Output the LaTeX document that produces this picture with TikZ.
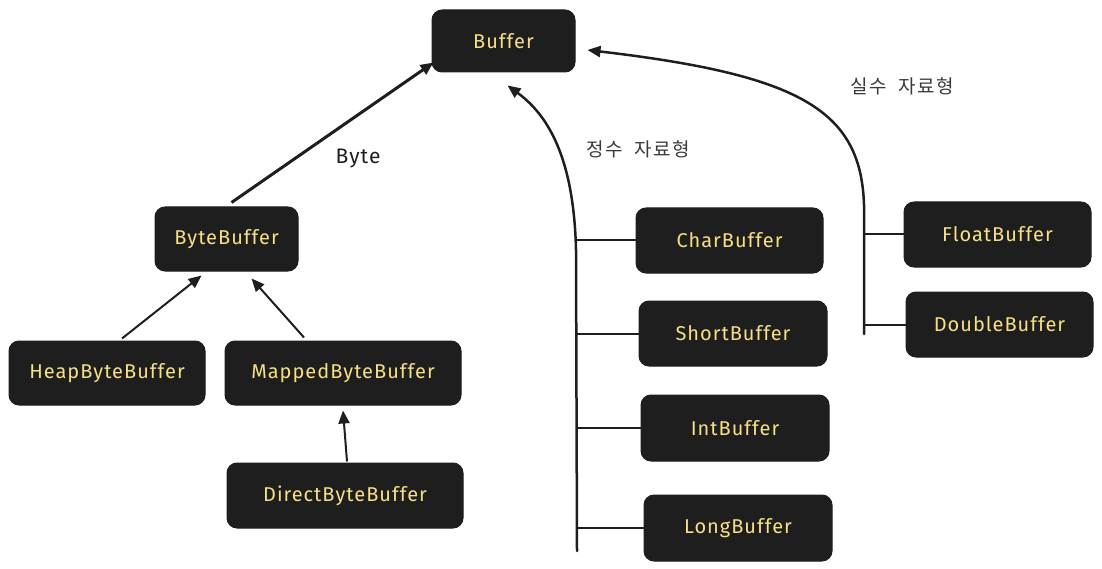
\documentclass[tikz,border=0pt]{standalone}
\usepackage{fontspec}
\setmainfont{Fira Sans}[LetterSpace=5]
\newfontfamily\krfont{Noto Sans CJK KR}[LetterSpace=8,WordSpace=2]
\usetikzlibrary{arrows.meta}
\definecolor{boxfill}{HTML}{1E1E1E}
\definecolor{txt}{HTML}{F7DF86}
\definecolor{ink}{HTML}{1E1E1E}
\definecolor{lbl}{HTML}{3A3A3A}
\begin{document}
\begin{tikzpicture}[x=1pt,y=-1pt,
  box/.style={draw=ink, fill=boxfill, rounded corners=10pt, line width=1pt,
    text=txt, font=\fontsize{20}{22}\selectfont, inner sep=0pt},
  conn/.style={draw=ink, line width=2pt},
  arr/.style={conn, -{Triangle[length=13pt,width=11pt]}},
  thickarr/.style={draw=ink, line width=3pt, -{Triangle[length=13pt,width=11pt]}},
  trunk/.style={draw=ink, line width=2.5pt, line cap=round},
  krlbl/.style={text=lbl, font=\krfont\fontsize{19}{21}\selectfont},
  txtlbl/.style={text=ink, font=\fontsize{21}{23}\selectfont}]
\useasboundingbox (0,0) rectangle (1102,569);

% boxes
\node[box, minimum width=143pt, minimum height=62pt] (buffer) at (503.5,41) {Buffer};
\node[box, minimum width=143pt, minimum height=64pt] (bytebuffer) at (226.5,239) {ByteBuffer};
\node[box, minimum width=196pt, minimum height=64pt] (heap) at (107,373) {HeapByteBuffer};
\node[box, minimum width=236pt, minimum height=64pt] (mapped) at (343,373) {MappedByteBuffer};
\node[box, minimum width=236pt, minimum height=65pt] (direct) at (345,495.5) {DirectByteBuffer};
\node[box, minimum width=187pt, minimum height=65pt] (char) at (729.5,240.5) {CharBuffer};
\node[box, minimum width=188pt, minimum height=65pt] (short) at (733,333.5) {ShortBuffer};
\node[box, minimum width=188pt, minimum height=66pt] (int) at (735,428) {IntBuffer};
\node[box, minimum width=188pt, minimum height=66pt] (long) at (738,528) {LongBuffer};
\node[box, minimum width=187pt, minimum height=65pt] (float) at (997.5,234.5) {FloatBuffer};
\node[box, minimum width=187pt, minimum height=65pt] (double) at (999.5,324.5) {DoubleBuffer};

% labels
\node[txtlbl] (bytelbl) at (358,159) {Byte};
\node[krlbl] (intlbl) at (638,149) {정수 자료형};
\node[krlbl] (floatlbl) at (902,86) {실수 자료형};

% ByteBuffer family
\draw[thickarr] ([yshift=4pt,xshift=5pt]bytebuffer.north) -- ([yshift=10pt,xshift=2pt]buffer.south west);
\draw[arr] ([xshift=15pt,yshift=2pt]heap.north) -- ([xshift=-25pt,yshift=-4pt]bytebuffer.south);
\draw[arr] ([xshift=-39pt,yshift=3pt]mapped.north) -- ([xshift=25pt,yshift=-7pt]bytebuffer.south);
\draw[arr] ([xshift=2pt,yshift=1pt]direct.north) -- ([yshift=-5pt]mapped.south);

% integer types
\coordinate (ibot) at (577,551);
\coordinate (itop) at (576,250);
\draw[trunk, -{Triangle[length=13pt,width=11pt]}] (ibot) -- (itop)
  .. controls (574,165) and (552,118) .. ([xshift=4pt,yshift=-13pt]buffer.south);
\draw[conn] (char.west) -- (char.west -| ibot);
\draw[conn] (short.west) -- (short.west -| ibot);
\draw[conn] (int.west) -- (int.west -| ibot);
\draw[conn] (long.west) -- (long.west -| ibot);

% floating point types
\coordinate (fbot) at (864,334);
\coordinate (ftop) at (864,205);
\draw[trunk, -{Triangle[length=13pt,width=11pt]}] (fbot) -- (ftop)
  .. controls (861,110) and (800,75) .. ([xshift=12pt,yshift=-9pt]buffer.east);
\draw[conn] (float.west) -- (float.west -| fbot);
\draw[conn] (double.west) -- (double.west -| fbot);
\end{tikzpicture}
\end{document}
